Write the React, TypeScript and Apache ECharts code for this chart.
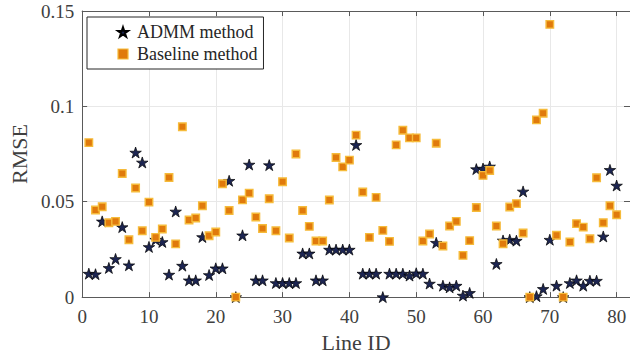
import React, { useEffect, useRef } from "react";
import * as echarts from "echarts";

const lineIds: number[] = Array.from({ length: 80 }, (_, i) => i + 1);

const admmValues: number[] = [
  0.0123, 0.012, 0.0397, 0.0153, 0.02, 0.0367, 0.0167, 0.0758, 0.0706, 0.0263,
  0.0301, 0.0289, 0.0118, 0.0449, 0.0165, 0.0088, 0.0088, 0.0315, 0.0116, 0.0151,
  0.0151, 0.061, 0.0, 0.0324, 0.0695, 0.0088, 0.0088, 0.0692, 0.0074, 0.0074,
  0.0074, 0.0074, 0.0229, 0.0229, 0.0088, 0.0088, 0.0249, 0.0249, 0.0249, 0.0249,
  0.0798, 0.0123, 0.0123, 0.0123, 0.0, 0.0123, 0.0123, 0.0123, 0.0113, 0.0125,
  0.0123, 0.0071, 0.0285, 0.006, 0.0051, 0.006, 0.0008, 0.0022, 0.0671, 0.0674,
  0.0685, 0.0174, 0.0297, 0.0301, 0.0296, 0.0554, 0.0, 0.0005, 0.0043, 0.0301,
  0.006, 0.0, 0.0074, 0.0088, 0.006, 0.0086, 0.0086, 0.0318, 0.0667, 0.0585,
];

const baselineValues: number[] = [
  0.081, 0.0457, 0.0474, 0.039, 0.0397, 0.0648, 0.0301, 0.0572, 0.0348, 0.0498,
  0.0313, 0.0357, 0.0627, 0.0279, 0.0893, 0.0404, 0.0415, 0.0479, 0.0322, 0.0341,
  0.0594, 0.0454, 0.0, 0.051, 0.0545, 0.042, 0.036, 0.0516, 0.0348, 0.0605,
  0.031, 0.075, 0.0454, 0.0371, 0.0294, 0.0294, 0.0509, 0.0732, 0.0683, 0.0718,
  0.0849, 0.0551, 0.0313, 0.0523, 0.035, 0.0292, 0.0798, 0.0875, 0.0835, 0.0835,
  0.0294, 0.0331, 0.0807, 0.0268, 0.0373, 0.0397, 0.0219, 0.0296, 0.047, 0.0638,
  0.0664, 0.0373, 0.028, 0.0472, 0.049, 0.0336, 0.0, 0.0929, 0.0964, 0.143,
  0.0324, 0.0, 0.0289, 0.0385, 0.0367, 0.0306, 0.0626, 0.039, 0.0479, 0.0432,
];

const seriesNames: string[] = ["ADMM method", "Baseline method"];

const STAR =
  "path://M50,0 L61.23,34.55 L97.55,34.55 L68.16,55.9 L79.39,90.45 L50,69.1 L20.61,90.45 L31.84,55.9 L2.45,34.55 L38.77,34.55 Z";

const FONT = '"Liberation Serif", "Times New Roman", serif';

export default function App() {
  const ref = useRef<HTMLDivElement>(null);

  useEffect(() => {
    if (!ref.current) return;
    const chart = echarts.init(ref.current, undefined, { renderer: "svg" });
    const axisColor = "#5a5a5a";
    const labelColor = "#404040";
    chart.setOption({
      animation: false,
      backgroundColor: "#ffffff",
      textStyle: { fontFamily: FONT },
      grid: { left: 80, right: -1, top: 11, bottom: 60.5, containLabel: false },
      legend: {
        left: 87,
        top: 17,
        orient: "vertical",
        backgroundColor: "#ffffff",
        borderColor: "#262626",
        borderWidth: 1,
        borderRadius: 0,
        padding: [5, 6, 5, 30],
        itemGap: 2,
        itemWidth: 10,
        itemHeight: 10,
        textStyle: {
          fontFamily: FONT,
          fontSize: 18,
          color: "#262626",
          lineHeight: 20,
          padding: [0, 0, 0, 4],
        },
        data: [
          { name: seriesNames[0] },
          { name: seriesNames[1], itemStyle: { borderWidth: 1.2 } },
        ],
      },
      xAxis: [
        {
          type: "value",
          min: 0,
          max: 82,
          interval: 10,
          name: "Line ID",
          nameLocation: "middle",
          nameGap: 33,
          nameTextStyle: { fontFamily: FONT, fontSize: 22, color: labelColor },
          axisLine: { show: true, onZero: false, lineStyle: { color: axisColor, width: 1 } },
          axisTick: { show: true, inside: true, length: 5, lineStyle: { color: axisColor } },
          axisLabel: {
            fontFamily: FONT,
            fontSize: 19,
            color: labelColor,
            margin: 10,
            showMaxLabel: false,
            formatter: (v: number) => (v % 10 === 0 ? String(v) : ""),
          },
          splitLine: { show: true, lineStyle: { color: "#e8e8e8", width: 1 } },
        },
        {
          type: "value",
          position: "top",
          min: 0,
          max: 82,
          interval: 10,
          axisLine: { show: true, onZero: false, lineStyle: { color: axisColor, width: 1 } },
          axisTick: { show: true, inside: true, length: 5, lineStyle: { color: axisColor } },
          axisLabel: { show: false },
          splitLine: { show: false },
        },
      ],
      yAxis: [
        {
          type: "value",
          min: 0,
          max: 0.15,
          interval: 0.05,
          name: "RMSE",
          nameLocation: "middle",
          nameGap: 48,
          nameTextStyle: { fontFamily: FONT, fontSize: 22, color: labelColor },
          axisLine: { show: true, onZero: false, lineStyle: { color: axisColor, width: 1 } },
          axisTick: { show: true, inside: true, length: 5, lineStyle: { color: axisColor } },
          axisLabel: { fontFamily: FONT, fontSize: 19, color: labelColor, margin: 8 },
          splitLine: { show: true, lineStyle: { color: "#e8e8e8", width: 1 } },
        },
        {
          type: "value",
          position: "right",
          min: 0,
          max: 0.15,
          interval: 0.05,
          axisLine: { show: true, onZero: false, lineStyle: { color: axisColor, width: 1 } },
          axisTick: { show: true, inside: true, length: 6, lineStyle: { color: axisColor } },
          axisLabel: { show: false },
          splitLine: { show: false },
        },
      ],
      series: [
        {
          name: seriesNames[0],
          type: "scatter",
          xAxisIndex: 0,
          yAxisIndex: 0,
          symbol: STAR,
          symbolSize: [11.5, 11],
          itemStyle: { color: "#1c2552", borderColor: "#000000", borderWidth: 0.7, opacity: 1 },
          data: lineIds.map((id, i) => [id, admmValues[i]]),
          clip: false,
        },
        {
          name: seriesNames[1],
          type: "scatter",
          xAxisIndex: 0,
          yAxisIndex: 0,
          symbol: "rect",
          symbolSize: 7.5,
          itemStyle: { color: "#e07a0c", borderColor: "#f6bb3a", borderWidth: 1.4, opacity: 1 },
          data: lineIds.map((id, i) => [id, baselineValues[i]]),
          clip: false,
        },
      ],
    });
    return () => chart.dispose();
  }, []);

  return (
    <div
      ref={ref}
      style={{ position: "absolute", left: 0, top: 0, width: 630, height: 358 }}
    />
  );
}
